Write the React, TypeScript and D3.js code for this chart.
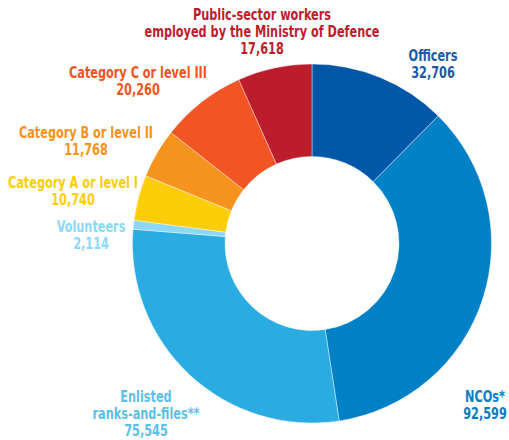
import React from "react";
import * as d3 from "d3";

const categories = [
  "Officers",
  "NCOs*",
  "Enlisted ranks-and-files**",
  "Volunteers",
  "Category A or level I",
  "Category B or level II",
  "Category C or level III",
  "Public-sector workers employed by the Ministry of Defence",
];
const values = [32706, 92599, 75545, 2114, 10740, 11768, 20260, 17618];
const valueLabels = ["32,706", "92,599", "75,545", "2,114", "10,740", "11,768", "20,260", "17,618"];
const labelLines = [
  ["Officers"],
  ["NCOs*"],
  ["Enlisted", "ranks-and-files**"],
  ["Volunteers"],
  ["Category A or level I"],
  ["Category B or level II"],
  ["Category C or level III"],
  ["Public-sector workers", "employed by the Ministry of Defence"],
];
const sliceColors = ["#0057a8", "#0081c6", "#2aabe2", "#8dd7f7", "#fecd0a", "#f6921e", "#f05523", "#bc1d2d"];
const textColors = ["#1b5aa3", "#0a7cc2", "#5cbfea", "#8dd7f7", "#fecd0a", "#f6921e", "#f05523", "#bc1d2d"];
// label anchor: [x, first baseline y, anchor]
const labelPos: [number, number, string][] = [
  [433, 61, "middle"],
  [485, 402, "middle"],
  [146, 402, "middle"],
  [91, 232, "middle"],
  [73, 188, "middle"],
  [86, 138, "middle"],
  [138, 78, "middle"],
  [262, 20, "middle"],
];

export default function App() {
  const cx = 312, cy = 243.5, R = 179.5, r = 87;
  const pie = d3.pie<number>().sort(null).value((d) => d)(values);
  const arc = d3.arc<d3.PieArcDatum<number>>().innerRadius(r).outerRadius(R);
  const font = "'DejaVu Sans Condensed', 'Liberation Sans Narrow', Arial, sans-serif";
  const sx = 0.81;
  return (
    <svg width={509} height={440} style={{ position: "absolute", left: 0, top: 0 }}>
      <rect width={509} height={440} fill="#fff" />
      <g transform={`translate(${cx},${cy})`}>
        {pie.map((p, i) => (
          <path key={i} d={arc(p) || ""} fill={sliceColors[i]} stroke="#fff" strokeWidth={0.4} />
        ))}
      </g>
      {categories.map((c, i) => {
        const [x, y, a] = labelPos[i];
        const lines = [...labelLines[i], valueLabels[i]];
        return (
          <g key={c} transform={`translate(${x},${y}) scale(${sx},1)`}>
            <text x={0} y={0} textAnchor={a} fill={textColors[i]} fontFamily={font} fontWeight="bold" fontSize={15.5}>
              {lines.map((l, j) => (
                <tspan key={j} x={0} dy={j === 0 ? 0 : 17.2}>{l}</tspan>
              ))}
            </text>
          </g>
        );
      })}
    </svg>
  );
}
